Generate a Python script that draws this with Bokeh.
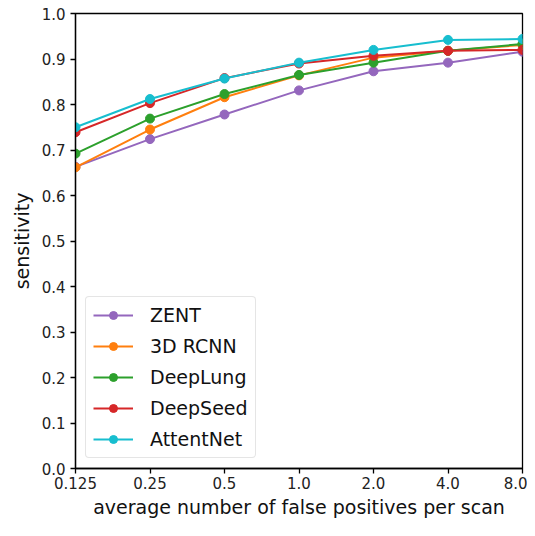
from bokeh.plotting import figure
from bokeh.models import FixedTicker, Legend, LegendItem
from bokeh.embed import file_html
from bokeh.resources import INLINE

x_vals = [0.125, 0.25, 0.5, 1.0, 2.0, 4.0, 8.0]
x_labels = ["0.125", "0.25", "0.5", "1.0", "2.0", "4.0", "8.0"]
y_ticks = [0.0, 0.1, 0.2, 0.3, 0.4, 0.5, 0.6, 0.7, 0.8, 0.9, 1.0]

series_names = ["ZENT", "3D RCNN", "DeepLung", "DeepSeed", "AttentNet"]
zent = [0.663, 0.724, 0.778, 0.831, 0.873, 0.892, 0.916]
rcnn3d = [0.662, 0.745, 0.816, 0.864, 0.903, 0.918, 0.931]
deeplung = [0.692, 0.769, 0.823, 0.865, 0.892, 0.918, 0.933]
deepseed = [0.739, 0.803, 0.858, 0.890, 0.907, 0.918, 0.920]
attentnet = [0.750, 0.812, 0.857, 0.892, 0.920, 0.942, 0.944]
colors = ["#9467bd", "#ff7f0e", "#2ca02c", "#d62728", "#17becf"]
all_series = [zent, rcnn3d, deeplung, deepseed, attentnet]

FONT = "DejaVu Sans"

p = figure(width=527, height=520, x_axis_type="log",
           x_range=(0.125, 8.0), y_range=(0.0, 1.0),
           output_backend="svg", toolbar_location=None,
           min_border_left=75, min_border_right=5,
           min_border_top=13, min_border_bottom=48)
p.grid.visible = False
p.outline_line_color = "black"
p.outline_line_width = 1.3
p.background_fill_color = "white"
p.border_fill_color = "white"

p.xaxis.ticker = FixedTicker(ticks=x_vals, minor_ticks=[])
p.xaxis.major_label_overrides = {v: l for v, l in zip(x_vals, x_labels)}
p.yaxis.ticker = FixedTicker(ticks=y_ticks, minor_ticks=[])
p.yaxis.major_label_overrides = {v: f"{v:.1f}" for v in y_ticks}

for ax in (p.xaxis[0], p.yaxis[0]):
    ax.axis_line_color = "black"
    ax.axis_line_width = 1.3
    ax.major_tick_line_color = "black"
    ax.major_tick_line_width = 1.3
    ax.major_tick_out = 5
    ax.major_tick_in = 0
    ax.minor_tick_line_color = None
    ax.major_label_text_font = FONT
    ax.major_label_text_font_size = "15px"
    ax.major_label_text_color = "#222222"
    ax.axis_label_text_font = FONT
    ax.axis_label_text_font_size = "19px"
    ax.axis_label_text_font_style = "normal"
    ax.axis_label_text_color = "#111111"

p.xaxis.axis_label = "average number of false positives per scan"
p.yaxis.axis_label = "sensitivity"
p.xaxis.major_label_standoff = 3
p.yaxis.major_label_standoff = 5
p.xaxis.axis_label_standoff = 4
p.yaxis.axis_label_standoff = 6

items = []
for name, ys, c in zip(series_names, all_series, colors):
    r1 = p.line(x_vals, ys, line_color=c, line_width=2)
    r2 = p.scatter(x_vals, ys, size=9, fill_color=c, line_color=c)
    items.append(LegendItem(label=name, renderers=[r1, r2]))

legend = Legend(items=items, location="bottom_left")
legend.label_text_font = FONT
legend.label_text_font_size = "19px"
legend.label_text_color = "#111111"
legend.glyph_width = 40
legend.glyph_height = 20
legend.spacing = 9
legend.padding = 7
legend.margin = 10
legend.label_standoff = 17
legend.border_line_color = "#cccccc"
legend.border_line_width = 1.2
legend.background_fill_alpha = 0.85
if "border_radius" in Legend.properties():
    legend.border_radius = 4
p.add_layout(legend)

open("out.html", "w").write(file_html(p, INLINE))
